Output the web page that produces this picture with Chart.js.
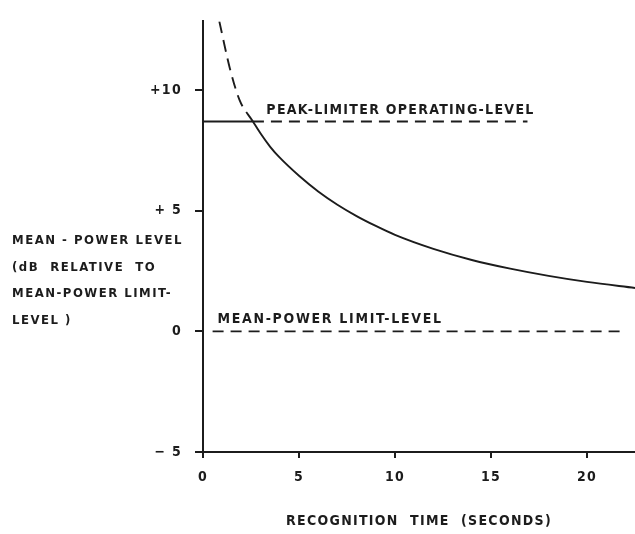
<!DOCTYPE html>
<html>
<head>
<meta charset="utf-8">
<script src="https://cdn.jsdelivr.net/npm/chart.js@4.4.1/dist/chart.umd.min.js"></script>
<style>
  html, body { margin: 0; padding: 0; background: #fff; }
  #wrap { width: 635px; height: 534px; }
</style>
</head>
<body>
<div id="wrap"><canvas id="chart" width="635" height="534"></canvas></div>
<script>
// recognition time (s) vs mean-power level (dB)
var curveTime  = [2.6, 3, 3.5, 4, 5, 6, 7, 8, 9, 10, 12, 14, 16, 18, 20, 22.5];
var curveLevel = [8.7, 8.2, 7.65, 7.2, 6.45, 5.8, 5.25, 4.78, 4.37, 4.0, 3.42, 2.96, 2.6, 2.3, 2.05, 1.8];
// dashed continuation of the curve above the peak-limiter level
var upperTime  = [0.85, 1.4, 1.9, 2.6];
var upperLevel = [12.85, 10.9, 9.6, 8.7];
var peakLevel = 8.7;
var peakSolidTime = [0, 2.6];
var peakDashTime = [2.6, 16.9];
var limitLevel = 0;
var limitTime = [0.5, 22];
var xTicks = [0, 5, 10, 15, 20];
var yTicks = [-5, 0, 5, 10];
var yTickLabels = { '-5': '\u2212 5', '0': '0', '5': '+ 5', '10': '+10' };
var yTitleLines = ['MEAN - POWER LEVEL', '(dB  RELATIVE  TO', 'MEAN-POWER LIMIT-', 'LEVEL )'];
var peakText = 'PEAK-LIMITER OPERATING-LEVEL';
var limitText = 'MEAN-POWER LIMIT-LEVEL';
var xTitle = 'RECOGNITION  TIME  (SECONDS)';

var ink = '#1c1c1c';
var family = '"DejaVu Sans Condensed", "DejaVu Sans", sans-serif';
var letterFont = { family: family, size: 14, weight: 'bold' };

var pts = function(xs, ys) {
  return xs.map(function(x, i) { return { x: x, y: ys[i] }; });
};
var flat = function(xs, level) {
  return xs.map(function(x) { return { x: x, y: level }; });
};

var lineSet = function(data, dash) {
  return {
    data: data,
    borderColor: ink,
    borderWidth: 1.9,
    borderDash: dash || [],
    pointRadius: 0,
    fill: false,
    cubicInterpolationMode: 'monotone'
  };
};

// hand lettering: spaced-out capitals everywhere, plus the labels on the plot
var annotate = {
  id: 'annotate',
  beforeDraw: function(chart) {
    chart.ctx.letterSpacing = '1.3px';
  },
  afterDraw: function(chart) {
    var ctx = chart.ctx, x = chart.scales.x, y = chart.scales.y;
    ctx.save();
    ctx.fillStyle = ink;
    ctx.font = 'bold 14px ' + family;
    ctx.textAlign = 'left';
    ctx.textBaseline = 'alphabetic';
    ctx.letterSpacing = '1.3px';
    ctx.fillText(peakText, x.getPixelForValue(3.3), y.getPixelForValue(peakLevel) - 8);
    ctx.letterSpacing = '1.7px';
    ctx.fillText(limitText, x.getPixelForValue(0.75), y.getPixelForValue(limitLevel) - 8);
    ctx.font = 'bold 13px ' + family;
    ctx.letterSpacing = '1.5px';
    var y0 = y.getPixelForValue(0);
    yTitleLines.forEach(function(line, i) {
      ctx.fillText(line, 12, y0 - 87 + i * 26.5);
    });
    ctx.restore();
    ctx.letterSpacing = '0px';
  }
};

new Chart(document.getElementById('chart'), {
  type: 'line',
  data: {
    datasets: [
      lineSet(pts(curveTime, curveLevel)),
      lineSet(pts(upperTime, upperLevel), [12, 7]),
      lineSet(flat(peakSolidTime, peakLevel)),
      lineSet(flat(peakDashTime, peakLevel), [11, 7]),
      lineSet(flat(limitTime, limitLevel), [11, 7])
    ]
  },
  options: {
    responsive: false,
    animation: false,
    layout: { padding: { top: 14, left: 0, right: 0, bottom: 0 } },
    plugins: { legend: { display: false }, tooltip: { enabled: false } },
    scales: {
      x: {
        type: 'linear',
        min: 0,
        max: 22.5,
        afterBuildTicks: function(s) { s.ticks = xTicks.map(function(v) { return { value: v }; }); },
        afterFit: function(s) { s.height = 82; },
        grid: { drawOnChartArea: false, drawTicks: true, tickLength: 6, color: ink, lineWidth: 2 },
        border: { display: true, color: ink, width: 2 },
        ticks: { color: ink, font: letterFont, padding: 11, maxRotation: 0, autoSkip: false },
        title: { display: true, text: xTitle, color: ink, font: letterFont, padding: { top: 0, bottom: 4 } }
      },
      y: {
        min: -5,
        max: 12.85,
        afterBuildTicks: function(s) { s.ticks = yTicks.map(function(v) { return { value: v }; }); },
        afterFit: function(s) { s.width = 203; },
        grid: { drawOnChartArea: false, drawTicks: true, tickLength: 8, color: ink, lineWidth: 2 },
        border: { display: true, color: ink, width: 2 },
        ticks: {
          color: ink, font: letterFont, padding: 13, autoSkip: false,
          callback: function(v) { return yTickLabels[v]; }
        }
      }
    }
  },
  plugins: [annotate]
});
</script>
</body>
</html>
